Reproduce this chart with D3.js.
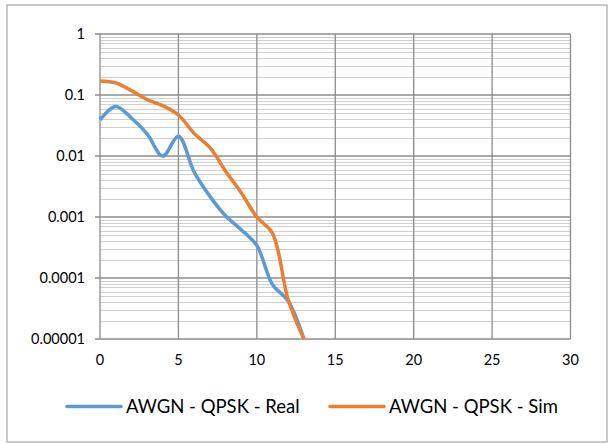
<!doctype html>
<html>
  <head>
    <script src="https://d3js.org/d3.v7.min.js"></script>
    <style>
      body { margin: 0; background: #fff; }
      text { font-family: Lato, 'Open Sans', sans-serif; fill: #000; }
    </style>
  </head>
  <body>
    <svg id="chart" width="609" height="444"></svg>

    <script>
      var snr = [0, 1, 2, 3, 4, 5, 6, 7, 8, 9, 10, 11, 12, 13]
      var berReal = [0.039, 0.065, 0.042, 0.023, 0.0100, 0.021, 0.0055, 0.0022, 0.00105, 0.00062, 0.00034, 0.000078, 0.000042, 0.00001]
      var berSim = [0.17, 0.158, 0.118, 0.084, 0.067, 0.047, 0.0235, 0.0138, 0.0057, 0.0025, 0.001, 0.00054, 0.000044, 0.00001]
      var seriesNames = ['AWGN - QPSK - Real', 'AWGN - QPSK - Sim']
      var xTicks = [0, 5, 10, 15, 20, 25, 30]
      var yTicks = [1, 0.1, 0.01, 0.001, 0.0001, 0.00001]
      var yLabels = ['1', '0.1', '0.01', '0.001', '0.0001', '0.00001']

      var colors = ['#5b9bd5', '#ed7d31']
      var svg = d3.select('#chart')

      // outer chart border
      svg.append('rect')
        .attr('x', 7).attr('y', 5).attr('width', 600).attr('height', 437)
        .attr('fill', 'none').attr('stroke', '#a6a6a6').attr('stroke-width', 1.2)

      var x = d3.scaleLinear().domain([0, 30]).range([100, 570.5])
      var y = d3.scaleLog().domain([0.00001, 1]).range([339, 34])

      // minor horizontal grid
      var minor = []
      yTicks.slice(1).forEach(function (t) {
        for (var k = 2; k <= 9; k++) minor.push(t * k)
      })
      svg.append('g').selectAll('line').data(minor).enter().append('line')
        .attr('x1', x(0)).attr('x2', x(30))
        .attr('y1', function (d) { return Math.round(y(d)) + 0.5 })
        .attr('y2', function (d) { return Math.round(y(d)) + 0.5 })
        .attr('stroke', '#d0d0d0').attr('stroke-width', 1)

      // major horizontal grid + ticks
      svg.append('g').selectAll('line').data(yTicks).enter().append('line')
        .attr('x1', x(0) - 5).attr('x2', x(30))
        .attr('y1', function (d) { return y(d) }).attr('y2', function (d) { return y(d) })
        .attr('stroke', '#8c8c8c').attr('stroke-width', 1.3)

      // vertical grid
      svg.append('g').selectAll('line').data(xTicks).enter().append('line')
        .attr('x1', function (d) { return x(d) }).attr('x2', function (d) { return x(d) })
        .attr('y1', y(1)).attr('y2', y(0.00001))
        .attr('stroke', '#8c8c8c').attr('stroke-width', 1.3)

      // y labels
      svg.append('g').selectAll('text').data(yTicks).enter().append('text')
        .attr('x', 85).attr('y', function (d) { return y(d) })
        .attr('dy', '0.35em').attr('text-anchor', 'end')
        .attr('font-size', 14.5)
        .text(function (d, i) { return yLabels[i] })

      // x labels
      svg.append('g').selectAll('text').data(xTicks).enter().append('text')
        .attr('x', function (d) { return x(d) }).attr('y', 365)
        .attr('text-anchor', 'middle').attr('font-size', 14.5)
        .text(function (d) { return d })

      var line = d3.line()
        .x(function (d) { return x(d[0]) })
        .y(function (d) { return y(d[1]) })
        .curve(d3.curveCatmullRom.alpha(0.5))

      var clip = svg.append('clipPath').attr('id', 'plot-clip')
      clip.append('rect').attr('x', x(0) - 5).attr('y', y(1)).attr('width', x(30) - x(0) + 10).attr('height', y(0.00001) - y(1) + 1.5)

      ;[berReal, berSim].forEach(function (vals, i) {
        svg.append('path')
          .datum(snr.map(function (s, j) { return [s, vals[j]] }))
          .attr('d', line)
          .attr('fill', 'none')
          .attr('stroke', colors[i])
          .attr('stroke-width', 3.5)
          .attr('stroke-linejoin', 'round')
          .attr('clip-path', 'url(#plot-clip)')
      })

      // legend
      var legendX = [67, 330]
      var legend = svg.append('g').selectAll('g').data(seriesNames).enter().append('g')
      legend.append('line')
        .attr('x1', function (d, i) { return legendX[i] })
        .attr('x2', function (d, i) { return legendX[i] + 54 })
        .attr('y1', 406.5).attr('y2', 406.5)
        .attr('stroke', function (d, i) { return colors[i] })
        .attr('stroke-width', 3.5).attr('stroke-linecap', 'round')
      legend.append('text')
        .attr('x', function (d, i) { return legendX[i] + 59 })
        .attr('y', 406.5).attr('dy', '0.35em')
        .attr('font-size', 18.5)
        .text(function (d) { return d })
    </script>
  </body>
</html>
